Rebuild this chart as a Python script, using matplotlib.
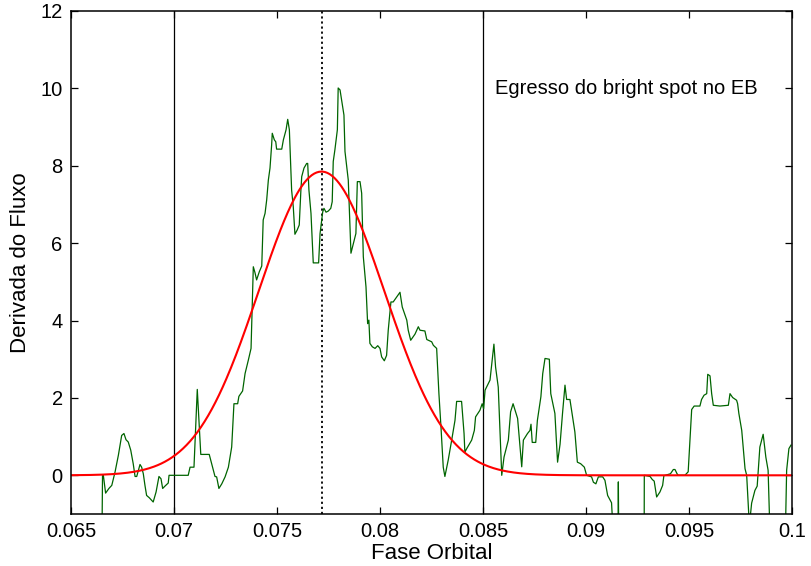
import numpy as np
import matplotlib
matplotlib.use("Agg")
import matplotlib.pyplot as plt

# --- Dados: derivada do fluxo em torno do egresso do bright spot ---
fase = [
    0.06648, 0.06653, 0.06657, 0.06668, 0.06684, 0.06698, 0.06714, 0.06730,
    0.06746, 0.06757, 0.06767, 0.06778, 0.06790, 0.06802, 0.06811, 0.06819,
    0.06827, 0.06835, 0.06843, 0.06851, 0.06859, 0.06867, 0.06880, 0.06899,
    0.06913, 0.06927, 0.06937, 0.06945, 0.06956, 0.06972, 0.06976, 0.07069,
    0.07078, 0.07097, 0.07113, 0.07121, 0.07130, 0.07171, 0.07183, 0.07199,
    0.07207, 0.07218, 0.07232, 0.07248, 0.07264, 0.07280, 0.07291, 0.07309,
    0.07315, 0.07333, 0.07345, 0.07361, 0.07374, 0.07385, 0.07393, 0.07401,
    0.07414, 0.07426, 0.07433, 0.07442, 0.07450, 0.07458, 0.07466, 0.07474,
    0.07477, 0.07487, 0.07494, 0.07498, 0.07523, 0.07531, 0.07544, 0.07552,
    0.07560, 0.07571, 0.07579, 0.07587, 0.07598, 0.07608, 0.07616, 0.07620,
    0.07631, 0.07644, 0.07649, 0.07655, 0.07665, 0.07676, 0.07702, 0.07709,
    0.07717, 0.07722, 0.07728, 0.07738, 0.07749, 0.07761, 0.07768, 0.07773,
    0.07781, 0.07793, 0.07797, 0.07806, 0.07825, 0.07830, 0.07846, 0.07859,
    0.07883, 0.07890, 0.07903, 0.07911, 0.07919, 0.07932, 0.07940, 0.07946,
    0.07951, 0.07963, 0.07976, 0.07989, 0.08000, 0.08008, 0.08021, 0.08032,
    0.08040, 0.08053, 0.08064, 0.08081, 0.08097, 0.08108, 0.08130, 0.08137,
    0.08149, 0.08170, 0.08186, 0.08194, 0.08218, 0.08227, 0.08251, 0.08259,
    0.08275, 0.08286, 0.08296, 0.08307, 0.08315, 0.08331, 0.08348, 0.08364,
    0.08372, 0.08396, 0.08408, 0.08412, 0.08421, 0.08445, 0.08458, 0.08464,
    0.08485, 0.08496, 0.08503, 0.08510, 0.08534, 0.08553, 0.08561, 0.08574,
    0.08591, 0.08602, 0.08623, 0.08634, 0.08646, 0.08668, 0.08688, 0.08696,
    0.08716, 0.08728, 0.08733, 0.08739, 0.08756, 0.08764, 0.08781, 0.08790,
    0.08801, 0.08822, 0.08829, 0.08849, 0.08862, 0.08874, 0.08886, 0.08898,
    0.08906, 0.08922, 0.08946, 0.08958, 0.08974, 0.08992, 0.09003, 0.09027,
    0.09036, 0.09048, 0.09060, 0.09081, 0.09092, 0.09105, 0.09124, 0.09133,
    0.09155, 0.09157, 0.09160, 0.09220, 0.09282, 0.09283, 0.09311, 0.09322,
    0.09331, 0.09343, 0.09359, 0.09372, 0.09378, 0.09410, 0.09424, 0.09432,
    0.09442, 0.09448, 0.09480, 0.09496, 0.09502, 0.09513, 0.09525, 0.09553,
    0.09561, 0.09573, 0.09586, 0.09591, 0.09602, 0.09610, 0.09618, 0.09650,
    0.09691, 0.09699, 0.09712, 0.09731, 0.09736, 0.09742, 0.09756, 0.09772,
    0.09780, 0.09793, 0.09804, 0.09820, 0.09831, 0.09844, 0.09860, 0.09873,
    0.09884, 0.09893, 0.09930, 0.09966, 0.09974, 0.09985, 0.09995,
]
derivada = [
    -3.00, 0.00, 0.00, -0.46, -0.34, -0.26, 0.09, 0.52,
    1.03, 1.08, 0.92, 0.86, 0.65, 0.30, -0.03, -0.03,
    0.13, 0.28, 0.21, 0.04, -0.26, -0.52, -0.58, -0.69,
    -0.43, -0.03, -0.09, -0.34, -0.28, -0.20, 0.00, 0.00,
    0.21, 0.21, 2.22, 1.42, 0.54, 0.54, 0.30, -0.03,
    -0.04, -0.34, -0.22, -0.04, 0.21, 0.73, 1.85, 1.85,
    2.04, 2.18, 2.63, 2.98, 3.28, 5.39, 5.24, 5.05,
    5.26, 5.41, 6.60, 6.77, 7.12, 7.63, 7.94, 8.54,
    8.84, 8.67, 8.62, 8.43, 8.43, 8.67, 8.93, 9.20,
    8.93, 7.37, 6.94, 6.23, 6.34, 6.47, 7.37, 7.72,
    7.94, 8.06, 8.06, 7.37, 6.77, 5.49, 5.49, 6.25,
    6.60, 6.81, 6.90, 6.80, 6.83, 6.90, 7.07, 8.11,
    8.41, 8.93, 10.01, 9.96, 9.31, 8.37, 7.63, 5.74,
    6.25, 7.59, 7.59, 7.29, 5.65, 4.87, 3.92, 4.01,
    3.41, 3.32, 3.28, 3.35, 3.28, 3.06, 2.96, 3.10,
    3.75, 4.48, 4.48, 4.61, 4.73, 4.35, 4.01, 3.75,
    3.49, 3.65, 3.84, 3.75, 3.73, 3.51, 3.45, 3.36,
    3.28, 2.11, 1.25, 0.21, -0.03, 0.39, 0.91, 1.42,
    1.91, 1.91, 1.08, 0.60, 0.69, 0.91, 1.16, 1.51,
    1.68, 1.85, 1.72, 2.20, 2.46, 3.39, 2.80, 2.28,
    0.00, 0.47, 0.91, 1.64, 1.85, 1.47, 0.22, 0.91,
    1.08, 1.16, 1.32, 0.85, 0.85, 1.42, 2.03, 2.63,
    3.02, 3.00, 2.11, 1.60, 0.34, 0.80, 1.60, 2.33,
    1.96, 1.96, 1.12, 0.34, 0.30, 0.21, 0.00, -0.04,
    -0.18, -0.22, -0.04, -0.04, -0.13, -0.52, -0.71, -1.60,
    -2.50, -0.17, -2.50, -3.00, -2.50, 0.00, -0.03, -0.11,
    -0.15, -0.56, -0.43, -0.26, -0.01, 0.04, 0.15, 0.15,
    0.04, 0.00, 0.00, 0.09, 0.65, 1.70, 1.79, 1.79,
    1.96, 2.07, 2.11, 2.61, 2.57, 2.11, 1.81, 1.79,
    1.81, 2.11, 2.01, 1.94, 1.85, 1.60, 1.16, 0.17,
    0.00, -1.30, -0.72, -0.39, -0.28, 0.73, 1.06, 0.47,
    0.13, -1.50, -2.50, -2.00, 0.13, 0.69, 0.78,
]

# --- Ajuste gaussiano (amplitude, centro, largura) ---
amplitude = 7.85
centro = 0.07716
largura = 0.00305

# fases de contato (linhas verticais) e centro do bright spot (pontilhada)
fase_inicio = 0.070
fase_fim = 0.085
fase_centro = 0.07718

xticks = [0.065, 0.07, 0.075, 0.08, 0.085, 0.09, 0.095, 0.1]
xtick_labels = ["0.065", "0.07", "0.075", "0.08", "0.085", "0.09", "0.095", "0.1"]
yticks = [0, 2, 4, 6, 8, 10, 12]

plt.rcParams['font.family'] = ['Liberation Sans', 'DejaVu Sans']
plt.rcParams['font.size'] = 14.5

fig = plt.figure(figsize=(8.11, 5.66), dpi=100)
ax = fig.add_axes([71 / 811, 52 / 566, 721 / 811, 503 / 566])

x_ajuste = np.linspace(0.065, 0.1, 600)
y_ajuste = amplitude * np.exp(-((x_ajuste - centro) ** 2) / (2 * largura ** 2))

ax.axvline(fase_inicio, color='black', lw=0.9)
ax.axvline(fase_fim, color='black', lw=0.9)
ax.axvline(fase_centro, color='black', lw=1.3, linestyle=(0, (1.2, 1.6)))

ax.plot(fase, derivada, color='#006400', lw=0.9)
ax.plot(x_ajuste, y_ajuste, color='#ff0000', lw=1.5)

ax.text(0.08558, 9.99, "Egresso do bright spot no EB", va='center', ha='left')

ax.set_xlim(0.065, 0.1)
ax.set_ylim(-1, 12)
ax.set_xticks(xticks)
ax.set_xticklabels(xtick_labels)
ax.set_yticks(yticks)

ax.tick_params(direction='in', top=True, right=True, length=5, width=0.9)
ax.tick_params(axis='x', pad=6)
ax.tick_params(axis='y', pad=6)
for s in ax.spines.values():
    s.set_linewidth(1.1)

ax.set_xlabel("Fase Orbital", fontsize=16)
ax.set_ylabel("Derivada do Fluxo", fontsize=16)
ax.xaxis.set_label_coords(0.5, -0.078)
ax.xaxis.label.set_va('center')
ax.yaxis.set_label_coords(-0.0707, 0.5)
ax.yaxis.label.set_va('center')

fig.savefig("out.png", dpi=100)
